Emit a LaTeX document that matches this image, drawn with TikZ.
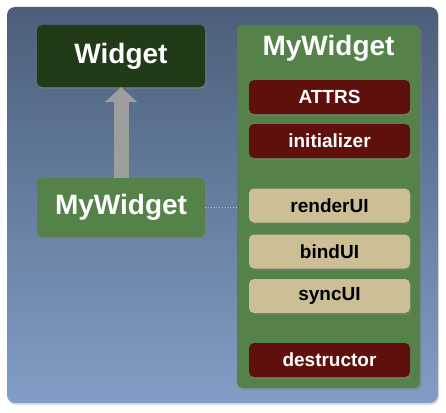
\documentclass[tikz,border=0pt]{standalone}
\usepackage{fontspec}
\setmainfont{Liberation Sans}
\usetikzlibrary{arrows.meta,shadows}

\definecolor{bgtop}{RGB}{76,94,122}
\definecolor{bgbot}{RGB}{128,158,198}
\definecolor{boxgreen}{RGB}{84,130,72}
\definecolor{darkgreen}{RGB}{33,58,23}
\definecolor{darkred}{RGB}{96,16,12}
\definecolor{tan}{RGB}{205,191,149}

\begin{document}
\begin{tikzpicture}[x=1pt,y=-1pt]
                \tikzstyle{every node}+=[inner sep=0pt, font=\bfseries]
                \tikzstyle{shade box}=[rounded corners=5pt, drop shadow={shadow xshift=1.5pt, shadow yshift=-2pt, opacity=0.45}]
                \tikzstyle{classbox}=[shade box, minimum width=168pt, text=white, font=\bfseries\fontsize{28}{30}\selectfont]
                \tikzstyle{methodbox}=[shade box, minimum width=161pt, minimum height=34pt, font=\bfseries\fontsize{19}{21}\selectfont]
                \tikzstyle{lifecycle}=[methodbox, fill=darkred, text=white]
                \tikzstyle{uibox}=[methodbox, fill=tan, text=black]
                \useasboundingbox (0,0) rectangle (446,412);
                \fill [white] (0,0) rectangle (446,412);
                % backdrop
                \fill [black, opacity=0.12, rounded corners=8pt] (8,8) rectangle (439,405);
                \shade [top color=bgtop, bottom color=bgbot, rounded corners=8pt] (7,7) rectangle (438,403);
                % class hierarchy
                \node [classbox, fill=darkgreen, minimum height=62pt] (widget) at (121,56) {Widget};
                \node [classbox, fill=boxgreen, minimum height=59pt] (mine) at (121,207.5) {MyWidget};
                \draw [line width=15pt, draw=black!38, -{Triangle[width=32pt,length=15pt]}] (mine.north) -- (widget.south);
                % expanded class
                \node [shade box, fill=boxgreen, minimum width=183pt, minimum height=363pt] (big) at (328.5,206.5) {};
                \node [text=white, font=\bfseries\fontsize{28}{30}\selectfont] (title) at (328.5,48) {MyWidget};
                \draw [dotted, thick, bgbot!60!white] (mine.east) -- (mine.east -| big.west);
                \node [lifecycle] (attrs) at (329.5,97) {ATTRS};
                \node [lifecycle] (init) at (329.5,141) {initializer};
                \node [uibox] (render) at (329.5,205.5) {renderUI};
                \node [uibox] (bind) at (329.5,251.5) {bindUI};
                \node [uibox] (sync) at (329.5,296) {syncUI};
                \node [lifecycle] (destr) at (329.5,360) {destructor};
\end{tikzpicture}
\end{document}
